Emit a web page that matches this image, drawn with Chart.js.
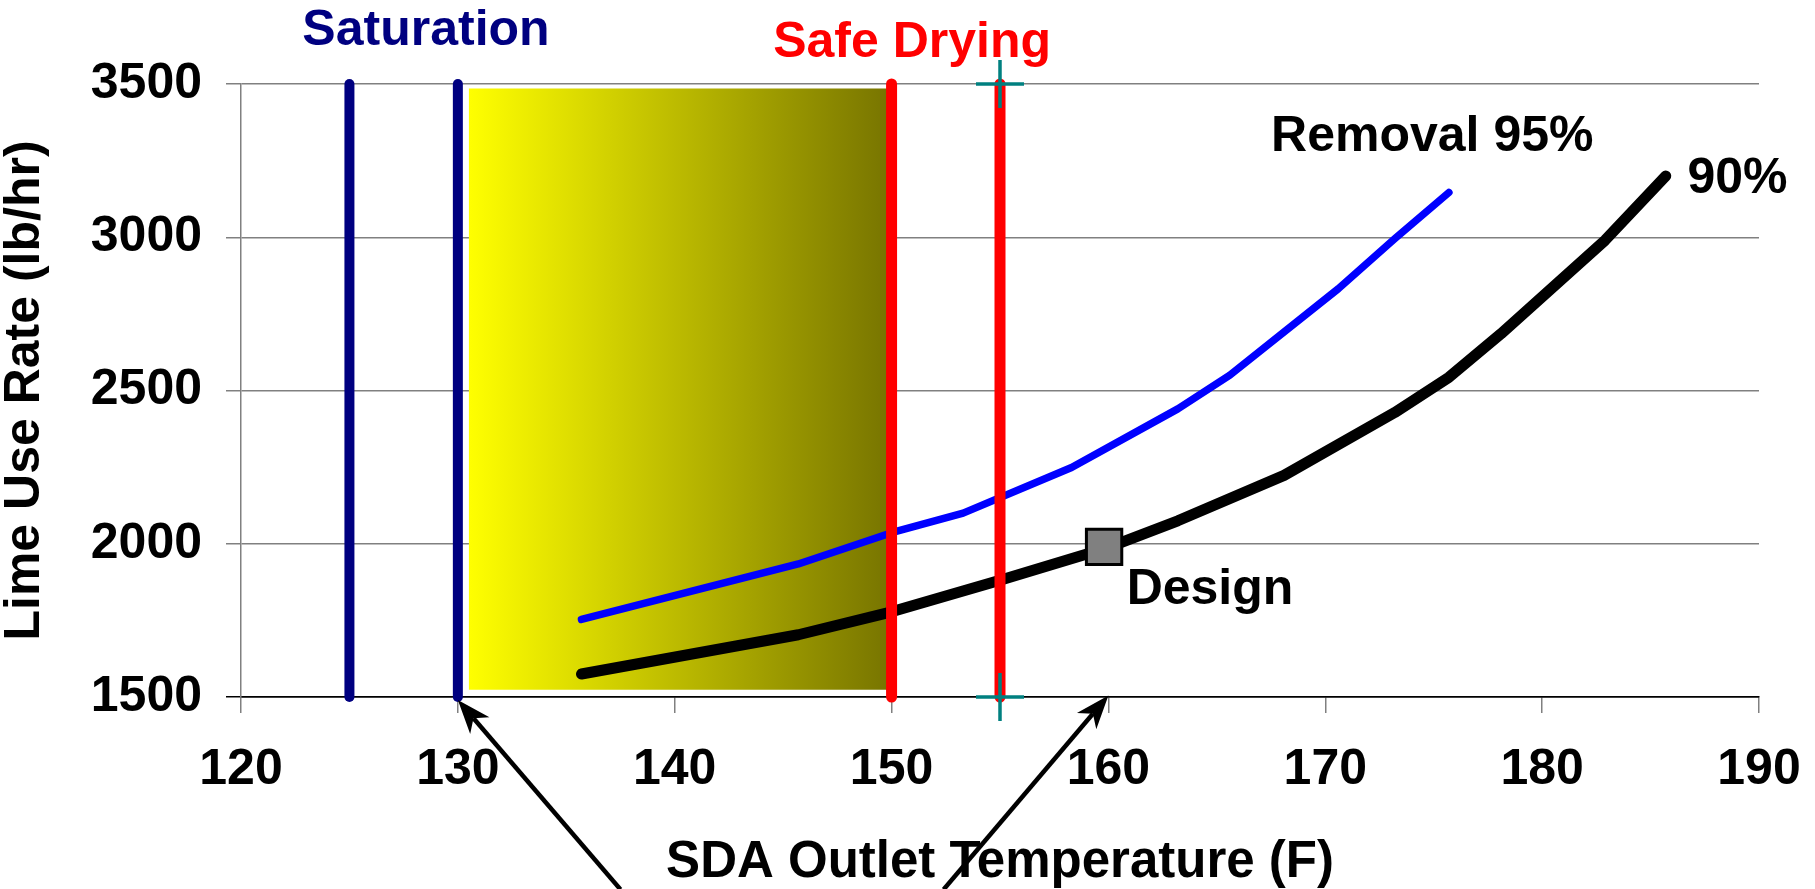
<!DOCTYPE html>
<html>
<head>
<meta charset="utf-8">
<title>Lime Use Rate vs SDA Outlet Temperature</title>
<script src="https://cdn.jsdelivr.net/npm/chart.js@4.4.0/dist/chart.umd.min.js"></script>
<style>
html, body { margin: 0; padding: 0; background: #fff; }
canvas { display: block; }
</style>
</head>
<body>
<canvas id="bieu_do" width="1815" height="889"></canvas>
<script>
// truc
var xTickValues = [120, 130, 140, 150, 160, 170, 180, 190];
var yTickValues = [1500, 2000, 2500, 3000, 3500];

// Removal 95%
var temp95 = [135.7, 145.7, 150, 153.3, 158.3, 163.2, 165.6, 170.6, 173.2, 175.7];
var rate95 = [1753, 1934, 2036, 2100, 2249, 2440, 2550, 2832, 2995, 3146];
// Removal 90%
var temp90 = [135.7, 145.7, 150, 155, 160, 163.2, 168.1, 173.2, 175.7, 178.1, 182.9, 185.7];
var rate90 = [1575, 1703, 1778, 1881, 1988, 2075, 2223, 2428, 2543, 2685, 2990, 3200];

// duong doc
var saturationTemps = [125, 130];
var safeDryingTemps = [150, 155];
var lineRates = [1500, 3500];

// vung vang
var shadeTemps = [130.5, 150];
var shadeRates = [1524, 3485];

// diem thiet ke
var designTemp = [159.8];
var designRate = [1990];

// chu thich
var noteTexts = ['Saturation', 'Safe Drying', 'Removal 95%', '90%', 'Design'];
var noteTemps = [122.83, 144.54, 167.5, 186.7, 160.84];
var noteRates = [3626, 3587, 3283, 3143, 1802];

// mui ten (tu -> den)
var arrowFromTemps = [137.5, 152.4];
var arrowFromRates = [872, 872];
var arrowToTemps = [130, 160];
var arrowToRates = [1490, 1505];

var FONT = "'Liberation Sans', Arial, Helvetica, sans-serif";
var noteColors = ['#000080', '#ff0000', '#000000', '#000000', '#000000'];

function toPoints(xs, ys) {
    var pts = [];
    for (var i = 0; i < xs.length; i++) pts.push({x: xs[i], y: ys[i]});
    return pts;
}

function vline(x, color, width, order) {
    return {
        data: [{x: x, y: lineRates[0]}, {x: x, y: lineRates[1]}],
        borderColor: color,
        borderWidth: width,
        borderCapStyle: 'round',
        pointRadius: 0,
        fill: false,
        clip: false,
        order: order
    };
}

var datasets = [];
// vung vang
datasets.push({
    data: [{x: shadeTemps[0], y: shadeRates[1]}, {x: shadeTemps[1], y: shadeRates[1]}],
    borderWidth: 0,
    borderColor: 'rgba(0,0,0,0)',
    pointRadius: 0,
    fill: {value: shadeRates[0]},
    backgroundColor: function (c) {
        var chart = c.chart;
        if (!chart.chartArea || !chart.scales.x) return '#ffff00';
        var x0 = chart.scales.x.getPixelForValue(shadeTemps[0]);
        var x1 = chart.scales.x.getPixelForValue(shadeTemps[1]);
        var g = chart.ctx.createLinearGradient(x0, 0, x1, 0);
        g.addColorStop(0, '#ffff00');
        g.addColorStop(1, '#777400');
        return g;
    },
    order: 20
});
datasets.push({
    data: toPoints(temp95, rate95),
    borderColor: '#0000ff',
    borderWidth: 7.5,
    borderCapStyle: 'round',
    borderJoinStyle: 'round',
    pointRadius: 0,
    tension: 0,
    fill: false,
    order: 12
});
datasets.push({
    data: toPoints(temp90, rate90),
    borderColor: '#000000',
    borderWidth: 11,
    borderCapStyle: 'round',
    borderJoinStyle: 'round',
    pointRadius: 0,
    tension: 0,
    fill: false,
    order: 11
});
saturationTemps.forEach(function (t) { datasets.push(vline(t, '#000080', 10, 9)); });
safeDryingTemps.forEach(function (t) { datasets.push(vline(t, '#ff0000', 11, 8)); });
// dau cong
datasets.push({
    data: [{x: safeDryingTemps[1], y: lineRates[1]}, {x: safeDryingTemps[1], y: lineRates[0]}],
    showLine: false,
    pointStyle: 'cross',
    pointRadius: 24,
    borderWidth: 3.5,
    borderColor: '#008080',
    clip: false,
    order: 5
});
datasets.push({
    data: toPoints(designTemp, designRate),
    showLine: false,
    pointStyle: 'rect',
    pointRadius: 25,
    backgroundColor: '#808080',
    borderColor: '#000000',
    borderWidth: 3,
    order: 4
});

var notesPlugin = {
    id: 'notes',
    afterDraw: function (chart) {
        var ctx = chart.ctx, xs = chart.scales.x, ys = chart.scales.y;
        ctx.save();
        // mui ten
        ctx.strokeStyle = '#000';
        ctx.fillStyle = '#000';
        ctx.lineWidth = 4.5;
        for (var i = 0; i < arrowToTemps.length; i++) {
            var x0 = xs.getPixelForValue(arrowFromTemps[i]), y0 = ys.getPixelForValue(arrowFromRates[i]);
            var x1 = xs.getPixelForValue(arrowToTemps[i]), y1 = ys.getPixelForValue(arrowToRates[i]);
            var a = Math.atan2(y1 - y0, x1 - x0);
            var len = 36, wid = 0.36, back = 24;
            ctx.beginPath();
            ctx.moveTo(x0, y0);
            ctx.lineTo(x1 - back * Math.cos(a), y1 - back * Math.sin(a));
            ctx.stroke();
            ctx.beginPath();
            ctx.moveTo(x1, y1);
            ctx.lineTo(x1 - len * Math.cos(a - wid), y1 - len * Math.sin(a - wid));
            ctx.lineTo(x1 - back * Math.cos(a), y1 - back * Math.sin(a));
            ctx.lineTo(x1 - len * Math.cos(a + wid), y1 - len * Math.sin(a + wid));
            ctx.closePath();
            ctx.fill();
        }
        // chu
        ctx.font = 'bold 50px ' + FONT;
        ctx.textAlign = 'left';
        ctx.textBaseline = 'alphabetic';
        for (var j = 0; j < noteTexts.length; j++) {
            ctx.fillStyle = noteColors[j];
            ctx.fillText(noteTexts[j], xs.getPixelForValue(noteTemps[j]), ys.getPixelForValue(noteRates[j]));
        }
        ctx.restore();
    }
};

var bieu_do = new Chart(document.getElementById('bieu_do').getContext('2d'), {
    type: 'line',
    data: {datasets: datasets},
    plugins: [notesPlugin],
    options: {
        responsive: false,
        animation: false,
        layout: {padding: {top: 84, right: 56, bottom: 0, left: 0}},
        plugins: {
            legend: {display: false},
            tooltip: {enabled: false}
        },
        scales: {
            x: {
                type: 'linear',
                min: xTickValues[0],
                max: xTickValues[xTickValues.length - 1],
                afterBuildTicks: function (s) { s.ticks = xTickValues.map(function (v) { return {value: v}; }); },
                afterFit: function (s) { s.height = 192; s.paddingLeft = 0; s.paddingRight = 0; },
                grid: {drawOnChartArea: false, drawTicks: true, tickLength: 16, color: '#808080', lineWidth: 1.5},
                border: {display: true, color: '#000000', width: 1.5},
                ticks: {
                    color: '#000',
                    padding: 27,
                    maxRotation: 0,
                    autoSkip: false,
                    callback: function (v) { return String(v); },
                    font: {family: FONT, size: 50, weight: 'bold'}
                },
                title: {
                    display: true,
                    text: 'SDA Outlet Temperature (F)',
                    color: '#000',
                    padding: {top: 0, bottom: 1},
                    font: {family: FONT, size: 51, weight: 'bold', lineHeight: 1}
                }
            },
            y: {
                type: 'linear',
                min: yTickValues[0],
                max: yTickValues[yTickValues.length - 1],
                afterBuildTicks: function (s) { s.ticks = yTickValues.map(function (v) { return {value: v}; }); },
                afterFit: function (s) { s.width = 241; s.paddingTop = 0; s.paddingBottom = 0; },
                grid: {
                    tickLength: 15,
                    lineWidth: 1.5,
                    color: function (c) { return c.tick && c.tick.value === yTickValues[0] ? '#000000' : '#808080'; }
                },
                border: {display: true, color: '#808080', width: 1.5},
                ticks: {
                    color: '#000',
                    padding: 24,
                    autoSkip: false,
                    callback: function (v) { return String(v); },
                    font: {family: FONT, size: 50, weight: 'bold'}
                },
                title: {
                    display: true,
                    text: 'Lime Use Rate (lb/hr)',
                    color: '#000',
                    padding: 0,
                    font: {family: FONT, size: 50, weight: 'bold', lineHeight: 1}
                }
            }
        }
    }
});
</script>
</body>
</html>
